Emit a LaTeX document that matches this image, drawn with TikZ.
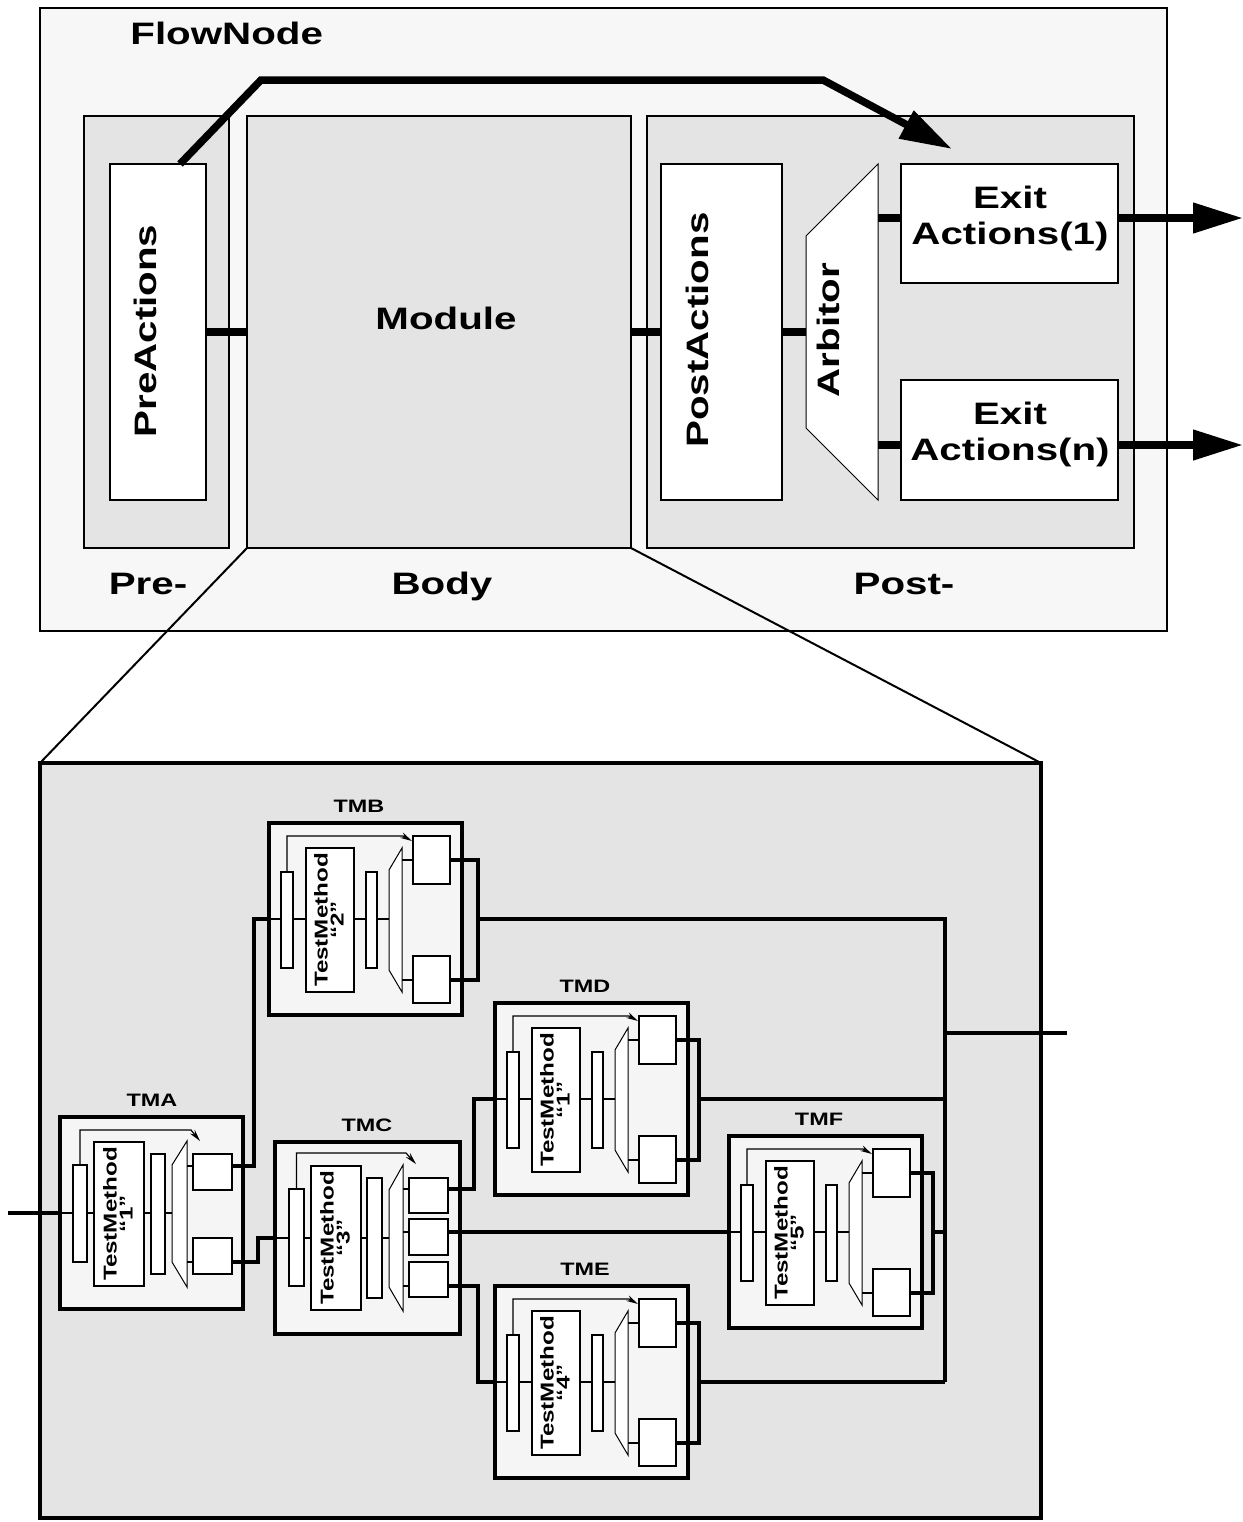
\documentclass[tikz,border=0pt]{standalone}
\usepackage{fontspec}
\newfontfamily\lbl{Liberation Sans}[FakeStretch=1.3]
\usetikzlibrary{arrows.meta}
\definecolor{bgA}{HTML}{F7F7F7}
\definecolor{bgB}{HTML}{E4E4E4}
\definecolor{bgC}{HTML}{F5F5F5}
\tikzset{
 flowbox/.style={draw, line width=1pt, fill=bgA},
 secbox/.style={draw, line width=1pt, fill=bgB},
 whitebox/.style={draw, line width=1pt, fill=white},
 lowerbox/.style={draw, line width=1.6pt, fill=bgB},
 tmouter/.style={draw, line width=1.6pt, fill=bgC},
 tmbox/.style={draw, line width=1pt, fill=white},
 inline/.style={line width=0.8pt},
 arb/.style={draw, line width=0.5pt, fill=white},
 wire/.style={line width=1.6pt},
 conn/.style={line width=3.75pt},
 zoomline/.style={line width=1pt},
 tmarrow/.style={line width=0.6pt, -{Stealth[length=6pt,width=3pt]}},
 bigtxt/.style={font=\lbl\bfseries\fontsize{15.5}{18}\selectfont, inner sep=0pt},
 tmlabel/.style={font=\lbl\bfseries\fontsize{9}{10}\selectfont, inner sep=0pt, anchor=base},
 tmtext/.style={font=\lbl\bfseries\fontsize{9.3}{8}\selectfont, inner sep=0pt, rotate=90, align=center},
}
% box node from corners: name, style, x1, y1, x2, y2
\newcommand\bx[6]{%
 \pgfmathsetmacro\bxw{(#5-#3)*0.5}\pgfmathsetmacro\bxh{(#6-#4)*0.5}%
 \node[#2, minimum width=\bxw pt, minimum height=\bxh pt, inner sep=0pt, outer sep=0pt] (#1) at ({(#3+#5)/2},{(#4+#6)/2}) {};}
% standard test method block: name, x0, y0, label, number, bracket x offset
\newcommand\tmstd[6]{%
\begin{scope}[shift={(#2,#3)}]
 \bx{#1}{tmouter}{0}{0}{193}{192}
 \node[tmlabel] (#1-lbl) at (90,-11) {#4};
 \draw[inline] (#1.west) -- (120,96);
 \bx{#1-pre}{tmbox}{12}{49}{24}{145}
 \bx{#1-tm}{tmbox}{37}{25}{85}{169}
 \node[tmtext] (#1-txt) at (60,97) {TestMethod\\“#5”};
 \bx{#1-post}{tmbox}{97}{49}{108}{145}
 \draw[arb] (120,47) -- (133,25) -- (133,169) -- (120,147) -- cycle;
 \bx{#1-e1}{tmbox}{144}{13}{181}{61}
 \bx{#1-e2}{tmbox}{144}{133}{181}{180}
 \draw[inline] (133,37) -- (144,37);
 \draw[inline] (133,157) -- (144,157);
 \draw[tmarrow] (#1-pre.north) |- (134,13) -- (143,18);
 \coordinate (#1-out) at (#6,96);
 \draw[wire] (181,37) -- (#6,37) -- (#6,157) -- (181,157);
\end{scope}}

\begin{document}
\begin{tikzpicture}[x=0.5pt,y=-0.5pt]
\fill[white] (0,0) rectangle (1243,1522);
\useasboundingbox (0,0) rectangle (1243,1522);

% ---------------- top: FlowNode ----------------
\bx{flow}{flowbox}{40}{8}{1167}{631}
\node[bigtxt, anchor=base west] (flowlbl) at (130,44) {FlowNode};
\bx{pre}{secbox}{84}{116}{229}{548}
\bx{module}{secbox}{247}{116}{631}{548}
\bx{post}{secbox}{647}{116}{1134}{548}
\bx{preact}{whitebox}{110}{164}{206}{500}
\bx{postact}{whitebox}{661}{164}{782}{500}
\draw[line width=0.5pt, fill=white] (806,236) coordinate (arbTL) -- (878,164) -- (878,500) -- (806,428) -- cycle;
\coordinate (arbL) at (806,332);
\coordinate (arbO1) at (878,218);
\coordinate (arbO2) at (878,445);
\bx{exit1}{whitebox}{901}{164}{1118}{283}
\bx{exitn}{whitebox}{901}{380}{1118}{500}

\node[bigtxt, anchor=base] (modlbl) at (446,329) {Module};
\node[bigtxt, rotate=90] (prelbl) at (145,331) {PreActions};
\node[bigtxt, rotate=90] (postlbl) at (697,330) {PostActions};
\node[bigtxt, rotate=90] (arblbl) at (828,330) {Arbitor};
\node[bigtxt, align=center] (ex1lbl) at (1010,218) {Exit\\Actions(1)};
\node[bigtxt, align=center] (exnlbl) at (1010,434) {Exit\\Actions(n)};
\node[bigtxt, anchor=base] (prename) at (148,594) {Pre-};
\node[bigtxt, anchor=base] (bodyname) at (442,594) {Body};
\node[bigtxt, anchor=base] (postname) at (904,594) {Post-};

\draw[conn] (preact.east) -- (module.west);
\draw[conn] (module.east) -- (postact.west);
\draw[conn] (postact.east) -- (arbL);
\draw[conn] (arbO1) -- (arbO1 -| exit1.west);
\draw[conn] (arbO2) -- (arbO2 -| exitn.west);
\coordinate (x1) at (1243,218);
\coordinate (xn) at (1243,445);
\draw[conn, -{Triangle[length=25pt,width=14.5pt]}] (x1 -| exit1.east) -- (x1);
\draw[conn, -{Triangle[length=25pt,width=14.5pt]}] (xn -| exitn.east) -- (xn);
\coordinate (patop) at (180,164);
\coordinate (arrtip) at (952,149);
\draw[conn, -{Triangle[length=26pt,width=15pt]}] (patop) -- (261,80) -- (823,80) -- (arrtip);

% ---------------- lower: Module detail ----------------
\bx{lower}{lowerbox}{40}{763}{1041}{1518}
\draw[zoomline] (module.south west) -- (lower.north west);
\draw[zoomline] (module.south east) -- (lower.north east);

% TMA
\begin{scope}[shift={(60,1117)}]
 \bx{A}{tmouter}{0}{0}{183}{192}
 \node[tmlabel] (A-lbl) at (92,-11) {TMA};
 \draw[inline] (A.west) -- (112,96);
 \bx{A-pre}{tmbox}{13}{48}{27}{145}
 \bx{A-tm}{tmbox}{34}{25}{84}{169}
 \node[tmtext] (A-txt) at (58,97) {TestMethod\\“1”};
 \bx{A-post}{tmbox}{91}{37}{105}{157}
 \draw[arb] (112,48) -- (127,24) -- (127,170) -- (112,145) -- cycle;
 \bx{A-e1}{tmbox}{133}{37}{172}{73}
 \bx{A-e2}{tmbox}{133}{121}{172}{157}
 \draw[inline] (127,49) -- (133,49);
 \draw[inline] (127,145) -- (133,145);
 \draw[tmarrow] (A-pre.north) |- (131,13) -- (140,24);
 \coordinate (A-o1) at (172,49);
 \coordinate (A-o2) at (172,145);
\end{scope}

% TMC
\begin{scope}[shift={(275,1142)}]
 \bx{C}{tmouter}{0}{0}{185}{192}
 \node[tmlabel] (C-lbl) at (92,-11) {TMC};
 \draw[inline] (C.west) -- (114,96);
 \bx{C-pre}{tmbox}{14}{47}{29}{144}
 \bx{C-tm}{tmbox}{36}{24}{86}{168}
 \node[tmtext] (C-txt) at (60,96) {TestMethod\\“3”};
 \bx{C-post}{tmbox}{92}{36}{107}{156}
 \draw[arb] (114,48) -- (128,23) -- (128,169) -- (114,145) -- cycle;
 \bx{C-e1}{tmbox}{134}{36}{173}{71}
 \bx{C-e2}{tmbox}{134}{77}{173}{113}
 \bx{C-e3}{tmbox}{134}{120}{173}{155}
 \draw[inline] (128,47) -- (134,47);
 \draw[inline] (128,90) -- (134,90);
 \draw[inline] (128,144) -- (134,144);
 \draw[tmarrow] (C-pre.north) |- (131,11) -- (141,22);
 \coordinate (C-o1) at (173,47);
 \coordinate (C-o2) at (173,90);
 \coordinate (C-o3) at (173,144);
\end{scope}

\tmstd{B}{269}{823}{TMB}{2}{209}
\tmstd{D}{495}{1003}{TMD}{1}{204}
\tmstd{E}{495}{1286}{TME}{4}{204}
\tmstd{F}{729}{1136}{TMF}{5}{204}

% wires
\coordinate (in) at (8,1213);
\draw[wire] (in) -- (A.west);
\draw[wire] (A-o1) -- ++(22,0) |- (B.west);
\draw[wire] (A-o2) -- ++(26,0) |- (C.west);
\draw[wire] (C-o1) -- ++(26,0) |- (D.west);
\draw[wire] (C-o2) -- (C-o2 -| F.west);
\draw[wire] (C-o3) -- ++(30,0) |- (E.west);
\coordinate (busT) at (945,919);
\coordinate (busB) at (945,1382);
\draw[wire] (B-out) -- (busT) -- (busB);
\draw[wire] (D-out) -- (D-out -| busT);
\draw[wire] (E-out) -- (busB);
\draw[wire] (F-out) -- (F-out -| busT);
\coordinate (out) at (1067,1033);
\draw[wire] (out -| busT) -- (out);
\end{tikzpicture}
\end{document}
